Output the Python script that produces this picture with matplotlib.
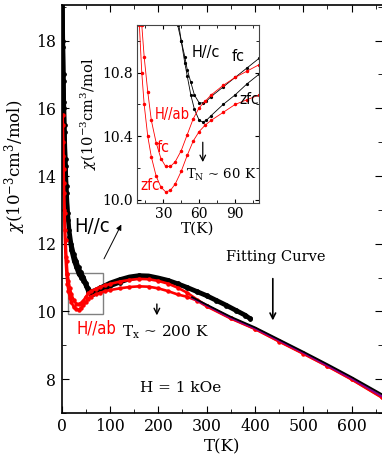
import numpy as np
import matplotlib
matplotlib.use("Agg")
import matplotlib.pyplot as plt
from matplotlib.patches import Rectangle

# %%
# main panel, H//c (fc / zfc overlap in the main view)
T_c = [2, 3, 4, 5, 6, 8, 10, 13, 16, 20, 25, 30, 35, 40, 45, 50, 55, 60, 65, 70, 80, 90, 100,
       120, 140, 160, 180, 200, 220, 240, 260, 280, 300, 320, 340, 360, 380, 390]
chi_c_fc = [19.5, 18.0, 17.0, 16.2, 15.5, 14.5, 13.7, 12.9, 12.4, 12.0, 11.7, 11.5, 11.3, 11.15, 11.02,
            10.85, 10.68, 10.6, 10.61, 10.64, 10.71, 10.78, 10.85, 10.95, 11.03, 11.07, 11.06, 11.0,
            10.93, 10.83, 10.72, 10.6, 10.48, 10.34, 10.2, 10.05, 9.9, 9.8]
chi_c_zfc = [19.3, 17.8, 16.8, 16.0, 15.3, 14.3, 13.5, 12.7, 12.2, 11.8, 11.5, 11.3, 11.1, 11.0, 10.9,
             10.75, 10.58, 10.5, 10.5, 10.53, 10.6, 10.67, 10.74, 10.85, 10.95, 11.0, 11.0, 10.96,
             10.9, 10.8, 10.69, 10.57, 10.45, 10.31, 10.17, 10.02, 9.87, 9.77]

# main panel, H//ab
T_ab = [2, 3, 4, 5, 6, 8, 10, 12, 14, 17, 20, 25, 30, 35, 40, 45, 50, 55, 60, 70, 80, 90, 100,
        120, 140, 160, 180, 200, 220, 240, 260, 280, 300, 350, 400, 450, 500, 550, 600, 662]
chi_ab_fc = [15.8, 15.0, 14.2, 13.5, 12.9, 12.1, 11.5, 11.1, 10.9, 10.68, 10.5, 10.33, 10.23, 10.21,
             10.24, 10.32, 10.43, 10.53, 10.59, 10.66, 10.72, 10.77, 10.81, 10.88, 10.93, 10.96,
             10.95, 10.9, 10.82, 10.7, 10.55, 10.35, 10.17, 9.8, 9.49, 9.12, 8.76, 8.39, 8.0, 7.47]
chi_ab_zfc = [15.5, 14.6, 13.8, 13.0, 12.4, 11.6, 11.1, 10.8, 10.6, 10.4, 10.27, 10.13, 10.06, 10.05,
              10.1, 10.18, 10.28, 10.38, 10.44, 10.5, 10.55, 10.6, 10.63, 10.68, 10.72, 10.74,
              10.73, 10.68, 10.6, 10.5, 10.43, 10.32, 10.15, 9.79, 9.48, 9.11, 8.75, 8.38, 7.99, 7.46]

# fitting curves
T_fit = [270, 300, 350, 400, 450, 500, 550, 600, 662]
chi_fit = [10.42, 10.2, 9.84, 9.53, 9.17, 8.81, 8.44, 8.06, 7.56]
chi_fit2 = [10.4, 10.18, 9.81, 9.5, 9.14, 8.78, 8.4, 8.02, 7.5]

# inset (low T)
Ti_c = [40, 42, 45, 48, 50, 53, 56, 60, 63, 66, 70, 80, 90, 100, 110]
chii_c_fc = [11.2, 11.1, 11.0, 10.9, 10.82, 10.74, 10.66, 10.61, 10.61, 10.62, 10.65, 10.71, 10.77, 10.83, 10.89]
chii_c_zfc = [11.3, 11.15, 11.0, 10.86, 10.78, 10.66, 10.57, 10.5, 10.49, 10.5, 10.53, 10.6, 10.66, 10.73, 10.79]
Ti_ab = [9, 10, 12, 14, 17, 20, 24, 28, 32, 36, 40, 45, 50, 55, 60, 65, 70, 80, 90, 100, 110]
chii_ab_fc = [11.6, 11.4, 11.1, 10.9, 10.68, 10.5, 10.36, 10.26, 10.21, 10.21, 10.24, 10.31, 10.41,
              10.51, 10.58, 10.62, 10.66, 10.72, 10.77, 10.81, 10.85]
chii_ab_zfc = [11.3, 11.1, 10.8, 10.6, 10.4, 10.27, 10.15, 10.08, 10.05, 10.06, 10.1, 10.18, 10.28,
               10.37, 10.43, 10.47, 10.5, 10.55, 10.6, 10.63, 10.66]

# %%
plt.rcParams['font.family'] = 'DejaVu Serif'
plt.rcParams['mathtext.fontset'] = 'dejavuserif'
sans = dict(family=['DejaVu Sans'], stretch='condensed')
red = '#ff0000'

fig = plt.figure(figsize=(3.82, 4.65), dpi=100)
ax = fig.add_axes([0.1615, 0.112, 0.8385, 0.877])

ax.plot(T_c, chi_c_zfc, color='black', lw=2.8, marker='o', ms=2.4)
ax.plot(T_c, chi_c_fc, color='black', lw=2.8, marker='o', ms=2.4)
ax.plot(T_ab, chi_ab_zfc, color=red, lw=1.9, marker='o', ms=2.2)
ax.plot(T_ab, chi_ab_fc, color=red, lw=1.9, marker='o', ms=2.2)
ax.plot(T_fit, chi_fit2, color='#8a0090', lw=1.6)
ax.plot(T_fit, chi_fit, color='black', lw=1.3)

ax.set_xlim(0, 663)
ax.set_ylim(7, 19.05)
ax.set_xticks(np.arange(0, 700, 100))
ax.set_xticks(np.arange(50, 700, 100), minor=True)
ax.set_yticks(np.arange(8, 19, 2))
ax.set_yticks(np.arange(7, 19.5, 2), minor=True)
ax.tick_params(which='both', direction='in', top=True, right=True, labelsize=11.3, pad=4)
ax.tick_params(which='major', length=5)
ax.tick_params(which='minor', length=3)
for s in ax.spines.values():
    s.set_linewidth(1.2)
ax.spines['right'].set_visible(False)

ax.set_xlabel('T(K)', fontsize=12, labelpad=2)
ax.set_ylabel(r'$\chi$(10$^{-3}$cm$^3$/mol)', fontsize=12)
ax.yaxis.set_label_coords(-0.105, 0.605)

ax.add_patch(Rectangle((12.4, 9.93), 73.6, 1.19, fill=False, ec='#808080', lw=1))
ax.annotate('', xy=(126, 12.64), xytext=(85, 11.48),
            arrowprops=dict(arrowstyle='-|>', color='black', lw=0.7, mutation_scale=8))

ax.text(25, 12.5, 'H//c', fontsize=14.5, color='black', va='center', **sans)
ax.text(31, 9.48, 'H//ab', fontsize=12, color=red, va='center', **sans)
ax.text(214, 9.38, r'T$_\mathrm{x}$ ~ 200 K', fontsize=11, ha='center', va='center')
ax.annotate('', xy=(197, 9.8), xytext=(197, 10.3),
            arrowprops=dict(arrowstyle='->', color='black', lw=1))
ax.text(443, 11.6, 'Fitting Curve', fontsize=10.5, ha='center', va='center')
ax.annotate('', xy=(437, 9.65), xytext=(437, 11.05),
            arrowprops=dict(arrowstyle='->', color='black', lw=1.2))
ax.text(247, 7.75, 'H = 1 kOe', fontsize=11, ha='center', va='center')

# %%
ins = fig.add_axes([0.3586, 0.5634, 0.3194, 0.3828])
ins.plot(Ti_c, chii_c_fc, color='black', lw=0.6, marker='o', ms=1.3)
ins.plot(Ti_c, chii_c_zfc, color='black', lw=0.6, marker='o', ms=1.3)
ins.plot(Ti_ab, chii_ab_fc, color=red, lw=0.6, marker='o', ms=1.5)
ins.plot(Ti_ab, chii_ab_zfc, color=red, lw=0.6, marker='o', ms=1.5)
ins.set_xlim(8, 110)
ins.set_ylim(9.98, 11.10)
ins.set_xticks([30, 60, 90])
ins.set_xticks([15, 45, 75, 105], minor=True)
ins.set_yticks([10.0, 10.4, 10.8])
ins.set_yticks([10.2, 10.6, 11.0], minor=True)
ins.tick_params(which='both', direction='in', top=True, right=True, labelsize=10, pad=3)
ins.tick_params(which='major', length=3)
ins.tick_params(which='minor', length=2)
for s in ins.spines.values():
    s.set_linewidth(0.8)
    s.set_color('#444444')
ins.set_xlabel('T(K)', fontsize=11, labelpad=0)
ins.set_ylabel(r'$\chi$(10$^{-3}$cm$^3$/mol', fontsize=10.5, labelpad=2)

ins.text(54, 10.93, 'H//c', fontsize=11.5, color='black', va='center', **sans)
ins.text(87, 10.9, 'fc', fontsize=11.5, color='black', va='center', **sans)
ins.text(94, 10.63, 'zfc', fontsize=11, color='black', va='center', **sans)
ins.text(23, 10.54, 'H//ab', fontsize=10.5, color=red, va='center', **sans)
ins.text(24.5, 10.33, 'fc', fontsize=11.5, color=red, va='center', **sans)
ins.text(10.5, 10.09, 'zfc', fontsize=11, color=red, va='center', **sans)
ins.annotate('', xy=(63, 10.22), xytext=(63, 10.38),
             arrowprops=dict(arrowstyle='->', color='black', lw=0.9))
ins.text(78, 10.155, r'T$_\mathrm{N}$ ~ 60 K', fontsize=9.5, ha='center', va='center')

fig.savefig('out.png', dpi=100)
